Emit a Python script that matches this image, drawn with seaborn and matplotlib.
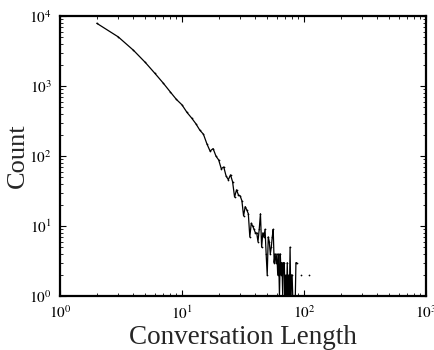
import numpy as np
import pandas as pd
import matplotlib
matplotlib.use("Agg")
import matplotlib.pyplot as plt
import seaborn as sns

nan = np.nan
# conversation lengths and counts (NaN = zero count, gap in the log plot)
lengths = list(range(2, 91)) + [91, 94, 95, 109, 110]
counts = [7900, 5050, 3250, 2180, 1520, 1110, 830, 645, 540,      # 2-10
          420, 350, 290, 235, 205, 150, 118, 128, 100, 88,       # 11-20
          66, 70, 52, 46, 54, 43, 26, 33, 28, 27,                # 21-30
          23, 14, 19, 17, 15, 7, 11, 10, 9, 8,                   # 31-40
          8, 6, 9, 15, 5, 8, 7, 9, 4, 2,                         # 41-50
          7, 6, 4, 5, 7, 9, 3, 4, 3, 4,                          # 51-60
          2, 4, 1, 4, 2, 3, 1, 3, 3, 1,                          # 61-70
          2, 1, 3, 1, 2, 1, 5, 1, 2, 2,                          # 71-80
          1, 1, nan, nan, 1, 3, 3, nan, 1, nan,                  # 81-90
          nan, 2, nan, nan, 2]                                   # 91,94,95,109,110

sns.set_style("white")
plt.rcParams['font.family'] = ['Liberation Serif', 'DejaVu Serif']
plt.rcParams['mathtext.fontset'] = 'stix'

df = pd.DataFrame({"length": lengths, "count": counts})
df["seg"] = df["count"].isna().cumsum()
df = df.dropna()

fig = plt.figure(figsize=(4.35, 3.5), dpi=100)
ax = fig.add_axes([0.138, 0.154, 0.841, 0.800])

sns.lineplot(data=df, x="length", y="count", units="seg", estimator=None,
             sort=False, color="black", linewidth=0.9, marker=".",
             markersize=2.5, markeredgewidth=0, ax=ax, legend=False)

ax.set_xscale("log")
ax.set_yscale("log")
ax.set_xlim(1, 1000)
ax.set_ylim(1, 10000)
ax.set_xticks([1, 10, 100, 1000])
ax.set_yticks([1, 10, 100, 1000, 10000])
ax.set_xticklabels([r"$10^{0}$", r"$10^{1}$", r"$10^{2}$", r"$10^{3}$"])
ax.set_yticklabels([r"$10^{0}$", r"$10^{1}$", r"$10^{2}$", r"$10^{3}$", r"$10^{4}$"])

ax.tick_params(which="both", direction="in", top=True, right=True,
               bottom=True, left=True, colors="black", labelsize=11)
ax.tick_params(which="major", length=4, width=0.8)
ax.tick_params(axis="x", which="major", pad=6)
ax.tick_params(axis="y", which="major", pad=6)
ax.tick_params(which="minor", length=2, width=0.6)
for s in ax.spines.values():
    s.set_visible(True)
    s.set_color("black")
    s.set_linewidth(1.6)

ax.set_xlabel("Conversation Length", fontsize=19.5, labelpad=2)
ax.set_ylabel("Count", fontsize=19, labelpad=0.5)

fig.savefig("out.png", dpi=100)
